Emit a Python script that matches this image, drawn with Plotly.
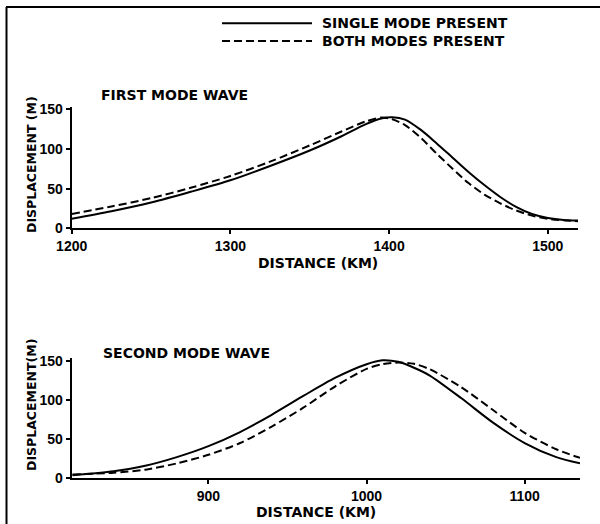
import plotly.graph_objects as go

# ---------------- data ----------------
first_x = [1200, 1225, 1250, 1275, 1300, 1325, 1350, 1370, 1385, 1395, 1402, 1410,
           1420, 1430, 1440, 1450, 1460, 1470, 1480, 1490, 1500, 1510, 1519]
first_single = [12, 21.5, 32.5, 46, 60.5, 78.5, 98, 116, 131, 138.5, 140, 137,
                124, 107, 89, 71, 54.5, 39.5, 27, 18, 13, 10.5, 9.8]
first_both = [18, 27.5, 38, 51, 66, 84, 104.5, 122, 134.5, 139.5, 137.5, 130,
              114, 94, 75, 57, 42.5, 31.5, 22.5, 16, 12, 10, 9]

second_x = [814, 840, 860, 880, 900, 920, 940, 960, 980, 1000, 1010, 1020,
            1030, 1040, 1060, 1080, 1100, 1120, 1135]
second_single = [4, 9, 16, 27, 41, 59, 81, 105, 128, 145.5, 150.5, 148.5,
                 141, 131, 102, 71, 45, 27, 19]
second_both = [5, 7, 11, 19, 30, 45, 66, 90, 117, 139.5, 145.5, 147.5,
               146, 139, 116, 87, 58, 37, 26]

first_xticks = [1200, 1300, 1400, 1500]
second_xticks = [900, 1000, 1100]
yticks = [0, 50, 100, 150]

series_names = ["SINGLE MODE PRESENT", "BOTH MODES PRESENT"]
panel_titles = ["FIRST MODE WAVE", "SECOND MODE WAVE"]
x_title = "DISTANCE (KM)"
y_titles = ["DISPLACEMENT (M)", "DISPLACEMENT(M)"]

W, H = 600, 524
FONT = "DejaVu Sans"
TICKFONT = "Liberation Sans"

def px(x):
    return x / W

def py(y):
    return 1 - y / H

fig = go.Figure()

solid = dict(color="black", width=2, shape="spline", smoothing=0.8)
dashed = dict(color="black", width=2, dash="8px,4px", shape="spline", smoothing=0.8)

fig.add_trace(go.Scatter(x=first_x, y=first_single, mode="lines", line=solid,
                         name=series_names[0], xaxis="x", yaxis="y",
                         showlegend=False))
fig.add_trace(go.Scatter(x=first_x, y=first_both, mode="lines", line=dashed,
                         name=series_names[1], xaxis="x", yaxis="y",
                         showlegend=False))
fig.add_trace(go.Scatter(x=second_x, y=second_single, mode="lines", line=solid,
                         name=series_names[0], xaxis="x2", yaxis="y2",
                         showlegend=False))
fig.add_trace(go.Scatter(x=second_x, y=second_both, mode="lines", line=dashed,
                         name=series_names[1], xaxis="x2", yaxis="y2",
                         showlegend=False))

tickfont = dict(family=TICKFONT, size=14, color="black", weight="bold")
common_x = dict(showline=True, linecolor="black", linewidth=2, ticks="outside",
                ticklen=4, tickwidth=1.5, tickcolor="black", showgrid=False,
                zeroline=False, tickfont=tickfont, automargin=False)
common_y = dict(showline=True, linecolor="black", linewidth=2, ticks="outside",
                ticklen=4, tickwidth=1.5, tickcolor="black", showgrid=False,
                zeroline=False, tickfont=tickfont, tickvals=yticks,
                range=[0, 153], automargin=False)

fig.update_layout(
    width=W, height=H,
    margin=dict(l=0, r=0, t=0, b=0, autoexpand=False),
    paper_bgcolor="white", plot_bgcolor="white",
    xaxis=dict(common_x, domain=[px(71.7), px(578)], range=[1200, 1519],
               tickvals=first_xticks, anchor="y"),
    yaxis=dict(common_y, domain=[py(228.3), py(106.9)], anchor="x"),
    xaxis2=dict(common_x, domain=[px(71.7), px(580)], range=[813.5, 1135],
                tickvals=second_xticks, anchor="y2"),
    yaxis2=dict(common_y, domain=[py(478.3), py(358.3)], anchor="x2"),
)

textfont = dict(family=FONT, size=14, color="black", weight="bold")
ytitlefont = dict(family=FONT, size=12.5, color="black", weight="bold")

# frame lines (top and left border of the figure)
fig.add_shape(type="line", xref="paper", yref="paper", x0=px(6), x1=1,
              y0=py(7), y1=py(7), line=dict(color="black", width=2))
fig.add_shape(type="line", xref="paper", yref="paper", x0=px(6.5), x1=px(6.5),
              y0=py(7), y1=0, line=dict(color="black", width=2))

# legend key
fig.add_shape(type="line", xref="paper", yref="paper", x0=px(222), x1=px(312),
              y0=py(23.3), y1=py(23.3), line=dict(color="black", width=2))
fig.add_shape(type="line", xref="paper", yref="paper", x0=px(222), x1=px(312),
              y0=py(41), y1=py(41), line=dict(color="black", width=2, dash="8px,4px"))
fig.add_annotation(x=px(320), y=py(23.3), xref="paper", yref="paper",
                   text=series_names[0], showarrow=False, xanchor="left",
                   yanchor="middle", font=textfont)
fig.add_annotation(x=px(320), y=py(41), xref="paper", yref="paper",
                   text=series_names[1], showarrow=False, xanchor="left",
                   yanchor="middle", font=textfont)

# panel titles
fig.add_annotation(x=px(99), y=py(95), xref="paper", yref="paper",
                   text=panel_titles[0], showarrow=False, xanchor="left",
                   yanchor="middle", font=textfont)
fig.add_annotation(x=px(101), y=py(353), xref="paper", yref="paper",
                   text=panel_titles[1], showarrow=False, xanchor="left",
                   yanchor="middle", font=textfont)

# axis titles
fig.add_annotation(x=px(318), y=py(263), xref="paper", yref="paper",
                   text=x_title, showarrow=False, xanchor="center",
                   yanchor="middle", font=textfont)
fig.add_annotation(x=px(316), y=py(512), xref="paper", yref="paper",
                   text=x_title, showarrow=False, xanchor="center",
                   yanchor="middle", font=textfont)
fig.add_annotation(x=px(31), y=py(165), xref="paper", yref="paper",
                   text=y_titles[0], showarrow=False, textangle=-90,
                   xanchor="center", yanchor="middle", font=ytitlefont)
fig.add_annotation(x=px(31), y=py(405), xref="paper", yref="paper",
                   text=y_titles[1], showarrow=False, textangle=-90,
                   xanchor="center", yanchor="middle", font=ytitlefont)

fig.write_html("out.html")
